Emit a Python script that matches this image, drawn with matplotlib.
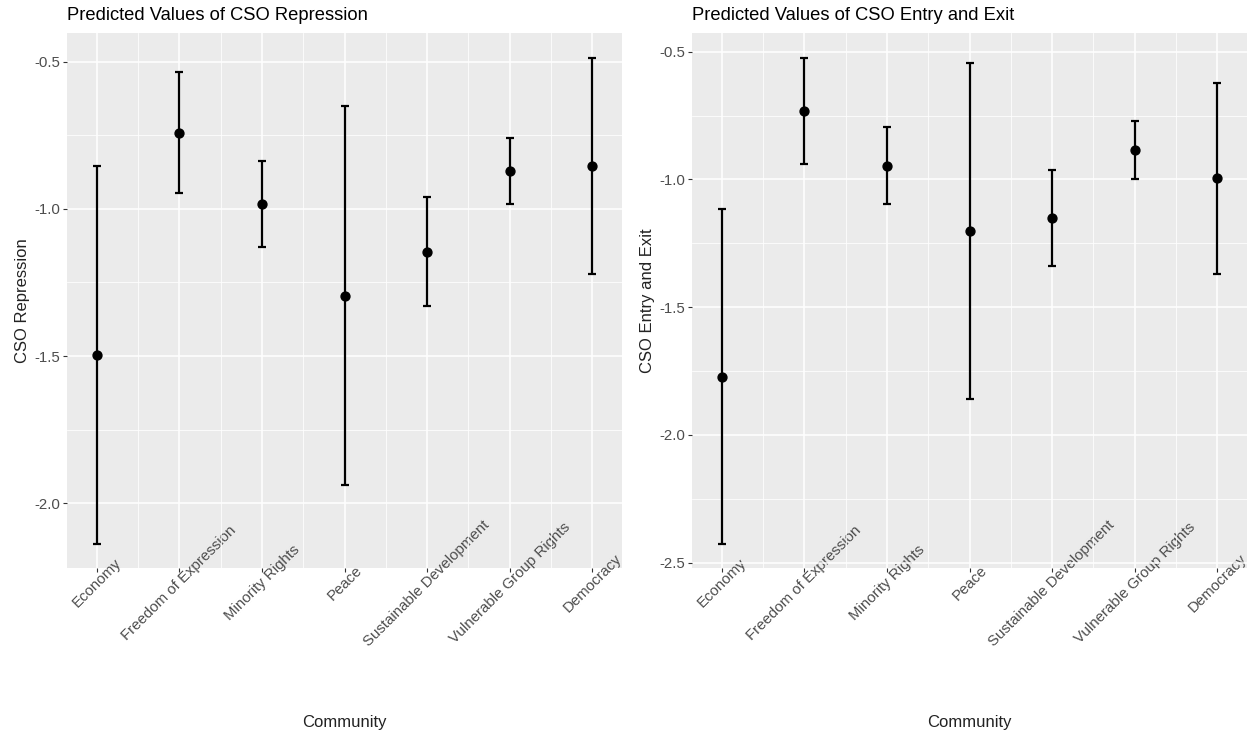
import numpy as np
import matplotlib
matplotlib.use("Agg")
import matplotlib.pyplot as plt
from matplotlib.ticker import FixedLocator

plt.rcParams['font.family'] = ['Liberation Sans', 'DejaVu Sans']

communities = ["Economy", "Freedom of Expression", "Minority Rights", "Peace",
               "Sustainable Development", "Vulnerable Group Rights", "Democracy"]

# CSO Repression: predicted value with lower / upper interval bounds
repression_fit = [-1.498, -0.743, -0.984, -1.296, -1.145, -0.873, -0.855]
repression_low = [-2.140, -0.946, -1.131, -1.939, -1.330, -0.983, -1.222]
repression_high = [-0.853, -0.536, -0.836, -0.650, -0.959, -0.760, -0.486]

# CSO Entry and Exit
entry_fit = [-1.772, -0.731, -0.947, -1.202, -1.151, -0.884, -0.995]
entry_low = [-2.428, -0.940, -1.095, -1.860, -1.340, -0.997, -1.369]
entry_high = [-1.116, -0.523, -0.794, -0.543, -0.962, -0.772, -0.621]

BG = "#EBEBEB"
TICK_TXT = "#4D4D4D"
TICK_LINE = "#333333"


def draw_panel(ax, fit, low, high, title, ylabel, ylim, yticks):
    x = np.arange(len(communities))
    fit = np.asarray(fit)
    yerr = np.vstack([fit - np.asarray(low), np.asarray(high) - fit])

    ax.set_facecolor(BG)
    for s in ax.spines.values():
        s.set_visible(False)

    ax.errorbar(x, fit, yerr=yerr, fmt="o", color="black", ecolor="black",
                elinewidth=1.6, capsize=2.8, capthick=1.6, markersize=6.4,
                zorder=3)

    ax.set_xlim(-0.36, len(communities) - 1 + 0.36)
    ax.set_ylim(*ylim)

    ax.xaxis.set_major_locator(FixedLocator(x))
    ax.xaxis.set_minor_locator(FixedLocator(x[:-1] + 0.5))
    ax.yaxis.set_major_locator(FixedLocator(yticks))
    ax.yaxis.set_minor_locator(FixedLocator(np.array(yticks[:-1]) + 0.25))

    ax.set_axisbelow(True)
    ax.grid(which="major", color="white", linewidth=1.1)
    ax.grid(which="minor", color="white", linewidth=0.55)

    ax.set_yticklabels([f"{v:.1f}" for v in yticks])
    ax.set_xticklabels(communities, rotation=45, ha="center", va="center")

    ax.tick_params(which="major", length=2.6, width=0.8, color=TICK_LINE,
                   labelcolor=TICK_TXT, labelsize=10.8)
    ax.tick_params(axis="x", which="major", pad=8.2)
    ax.tick_params(axis="y", which="major", pad=2.2)
    ax.tick_params(which="minor", length=0)

    ax.set_title(title, loc="left", fontsize=13.2, color="black", pad=9)

    ax.set_ylabel(ylabel, fontsize=12, color="#222222", va="center")
    ax.yaxis.set_label_coords(-0.08, 0.5)
    ax.set_xlabel("Community", fontsize=12, color="#222222", va="center")
    ax.xaxis.set_label_coords(0.5, -0.288)


fig = plt.figure(figsize=(12.59, 7.35), dpi=100)
ax1 = fig.add_axes([67 / 1259, 1 - 568 / 735, 555 / 1259, 535 / 735])
ax2 = fig.add_axes([692 / 1259, 1 - 568 / 735, 555 / 1259, 535 / 735])

draw_panel(ax1, repression_fit, repression_low, repression_high,
           "Predicted Values of CSO Repression", "CSO Repression",
           (-2.22, -0.4025), [-2.0, -1.5, -1.0, -0.5])
draw_panel(ax2, entry_fit, entry_low, entry_high,
           "Predicted Values of CSO Entry and Exit", "CSO Entry and Exit",
           (-2.521, -0.427), [-2.5, -2.0, -1.5, -1.0, -0.5])

fig.savefig("out.png", dpi=100)
